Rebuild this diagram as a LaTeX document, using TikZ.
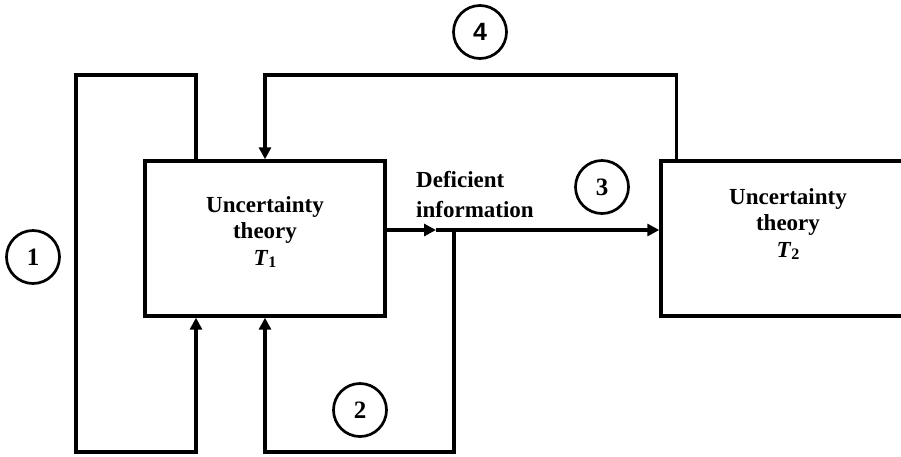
\documentclass[tikz,border=0pt]{standalone}
\usepackage{fontspec}
\setmainfont{Liberation Serif}
\newfontfamily\numsans{Liberation Sans}
\usepackage{tikz}
\usetikzlibrary{arrows.meta}

\begin{document}
\begin{tikzpicture}[x=1pt, y=-1pt,
        wire/.style={line width=3.4pt},
        tip/.style={-{Triangle[length=12pt,width=12pt]}},
        theorybox/.style={draw, line width=3.4pt, inner sep=0pt},
        boxtext/.style={align=center, font=\fontsize{23}{26.5}\selectfont\bfseries},
        notetext/.style={align=left, font=\fontsize{23}{30}\selectfont\bfseries},
        stage/.style={draw, circle, line width=2.7pt, minimum size=53pt, inner sep=0pt,
            font=\fontsize{25}{25}\selectfont\bfseries}]
        \clip (0,0) rectangle (901,456);

        % the two theories
        \node[theorybox, minimum width=240pt, minimum height=155pt] (t1) at (265,238.5) {};
        \node[theorybox, minimum width=254pt, minimum height=155pt] (t2) at (788,238.5) {};
        \node[boxtext, anchor=base] (t1text) at (265,265)
            {Uncertainty\\theory\\\textit{T}\raisebox{-2pt}{\fontsize{16}{16}\selectfont 1}};
        \node[boxtext, anchor=base] (t2text) at (788,257)
            {Uncertainty\\theory\\\textit{T}\raisebox{-2pt}{\fontsize{16}{16}\selectfont 2}};
        \node[notetext, anchor=base west, inner sep=0pt] (deficient) at (416,217)
            {Deficient\\information};

        % numbered stages
        \node[stage] (c1) at (33,257) {1};
        \node[stage] (c2) at (360,410) {2};
        \node[stage] (c3) at (602,187) {3};
        \node[stage] (c4) at (480,32) {\numsans\bfseries 4};

        \coordinate (junc) at (454,230);
        \coordinate (midtip) at (436,230);
        \coordinate (l1top) at (76,75);
        \coordinate (l1bot) at (76,452);
        \coordinate (l2bot) at (360,452);
        \coordinate (l4top) at (480,75);

        % deficient information passed on
        \draw[wire, tip] (t1.east |- junc) -- (midtip);
        \draw[wire, tip] (midtip) -- (t2.west |- junc);

        % loop 1
        \draw[wire, tip] ([xshift=-69pt]t1.north) |- (l1top) -- (l1bot) -| ([xshift=-69pt]t1.south);
        % loop 2
        \draw[wire, tip] (junc) |- (l2bot) -| (t1.south);
        % loop 4
        \draw[wire, tip] ([xshift=17pt]t2.north west) |- (l4top) -| (t1.north);
    \end{tikzpicture}
\end{document}
